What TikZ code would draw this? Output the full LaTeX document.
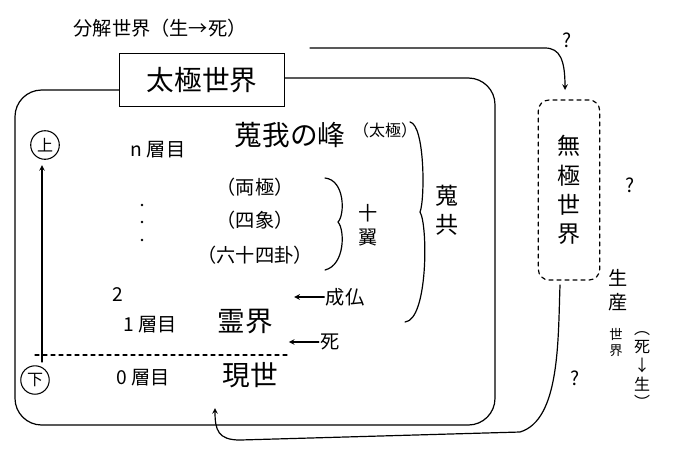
\documentclass[tikz,border=0pt]{standalone}
\usepackage{fontspec}
\setmainfont{Noto Sans CJK JP}
\usetikzlibrary{arrows,calc,positioning}
\tikzset{
  hand/.style={line width=0.9pt, line cap=round},
  lbl/.style={inner sep=1pt, font=\large},
  circ/.style={draw, circle, inner sep=2pt, line width=0.8pt}
}
\begin{document}
\begin{tikzpicture}[x=0.75pt,y=0.75pt,yscale=-1]
    \useasboundingbox (0,0) rectangle (680,462);
    %frame
    \draw [hand, rounded corners=20pt] (120,90) -- (15,90) -- (15,425) -- (495,425) -- (495,78) -- (285,78);
    \node [draw, hand, fill=white, minimum width=124pt, minimum height=40pt, font=\huge] (taikyoku) at (202,80) {太極世界};
    \node [lbl, font=\Large] (bunkai) at (160,28) {分解世界（生→死）};
    %top arrow to the right box
    \node [draw, dashed, hand, rounded corners=8pt, minimum width=46pt, minimum height=135pt, align=center, font=\LARGE] (mukyoku) at (569,190) {無\\極\\世\\界};
    \coordinate (t1) at (310,48);
    \draw [hand, -stealth] (t1) -- (545,48) .. controls (560,48) and (565,60) .. (565,90);
    \node [lbl, font=\Large] (q1) at (567,40) {?};
    \node [lbl, font=\Large] (q2) at (630,185) {?};
    \node [lbl, font=\Large] (q3) at (575,378) {?};
    %bottom return arrow
    \coordinate (b1) at (215,408);
    \draw [hand, -stealth] (560,285) .. controls (558,340) and (560,420) .. (520,432) -- (240,440) .. controls (218,440) and (215,430) .. (b1);
    %labels right
    \node [lbl, align=center, font=\Large] (seisan) at (618,290) {生\\産};
    \node [font=\normalsize, align=center, inner sep=0pt] (sekai) at (616,342) {世\\界};
    \node [lbl, align=center, font=\large] (shisei) at (642,370) {︵\\死\\↓\\生\\︶};
    %left side
    \node [circ, font=\large] (ue) at (45,145) {上};
    \node [circ, font=\large] (shita) at (35,380) {下};
    \draw [hand, -stealth] (42,362) -- (42,165);
    \draw [hand, dashed] (35,355) -- (290,355);
    %layers
    \node [lbl, font=\Large] (ln) at (158,150) {n 層目};
    \node [lbl, font=\huge] (mine) at (290,135) {蒐我の峰};
    \node [lbl] (taikyoku2) at (385,130) {（太極）};
    \node [lbl, font=\Large] (ryo) at (255,187) {（両極）};
    \node [lbl, font=\Large] (shisho) at (255,220) {（四象）};
    \node [lbl, font=\Large] (rokuju) at (255,255) {（六十四卦）};
    \draw [hand] (325,178) .. controls (345,180) and (345,215) .. (338,222) .. controls (345,230) and (345,265) .. (325,270);
    \node [lbl, align=center, font=\Large] (jyuyoku) at (368,225) {十\\翼};
    \draw [hand] (410,122) .. controls (425,125) and (425,200) .. (420,212) .. controls (428,225) and (428,320) .. (405,322);
    \node [lbl, align=center, font=\LARGE] (shinkyo) at (447,210) {蒐\\共};
    \foreach \y in {205,222,240} \fill (142,\y) circle (1pt);
    \node [lbl, font=\Large] (l2) at (118,295) {2};
    \node [lbl, font=\Large] (l1) at (150,325) {1 層目};
    \node [lbl, font=\huge] (reikai) at (245,322) {霊界};
    \node [lbl, font=\Large] (l0) at (143,378) {0 層目};
    \node [lbl, font=\huge] (gense) at (250,375) {現世};
    \node [lbl, font=\Large] (jobutsu) at (345,297) {成仏};
    \node [lbl, font=\Large] (shi) at (330,342) {死};
    \draw [hand, -stealth] (jobutsu.west) -- +(-30,0);
    \draw [hand, -stealth] (shi.west) -- +(-30,0);
\end{tikzpicture}
\end{document}
